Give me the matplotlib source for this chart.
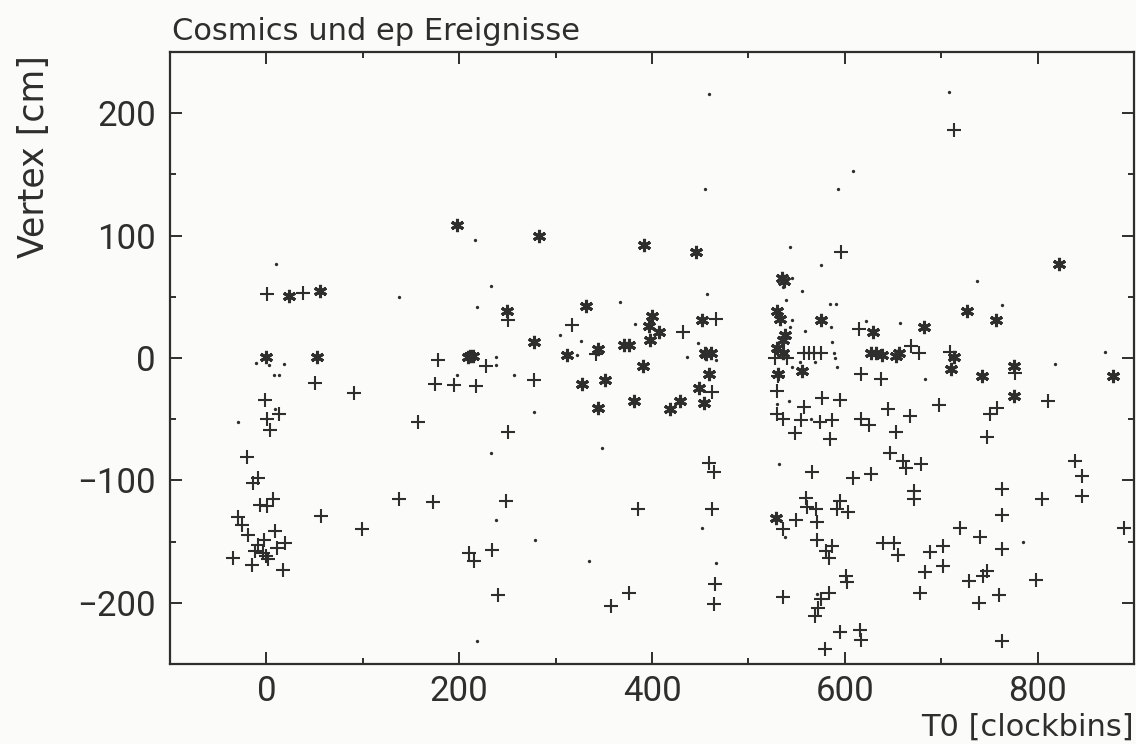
import matplotlib
matplotlib.use("Agg")
import matplotlib.pyplot as plt
from matplotlib.ticker import MultipleLocator

# T0 [clockbins], Vertex [cm]
plus_x = [1, 37.5, 50.6, 91, 178, 175, -1, 12.7, 0.3, 3.8, 157, -20, -9, -13.4, -6.5, 0.3, 6.5, 57, 99, 138,
          173, -29.6, -25.5, -18.6, 9.3, -2.8, -9, -11.4, -0.3, -3.8, 1.4, 11, 19, -35, -15, 17,
          251, 317, 432, 466, 227.7, 195, 217, 278, 342.4, 462, 250.5, 459.6,
          464, 248.8, 385.5, 462, 210.5, 215, 234, 465.4, 464, 240, 376, 357,
          595.7, 614.6, 527.5, 540, 557.4, 562.6, 567.8, 575, 531, 529.5, 557.4, 576.7, 595, 530, 536.4,
          554.4, 574.3, 587, 548, 584.7, 669, 676.6, 617, 637.7, 644.6, 668, 616.3, 625.6, 653.5, 646.7,
          660, 663, 679, 698, 708.7, 776.6, 811, 748, 750.7, 757.6, 838.6,
          566.4, 608.4, 627.4, 763.5, 804.8, 846, 846, 559.5, 561, 570, 595, 591.5, 603.6, 536.4, 549,
          571.6, 570.9, 580, 587, 583.5, 671.5, 671.5, 639.5, 651.5, 655, 688, 701.5, 683, 701.5, 719.7,
          740.4, 763.5, 763.5, 728.4, 743, 748, 798, 760, 738.7, 678.4, 600.8, 601.9, 536.4, 583.6, 575,
          572.5, 569, 595, 615.7, 617, 579.5, 763.5, 890, 713]
plus_y = [52, 53, -20.6, -29, -2, -21, -34, -46, -50, -58.5, -52, -81, -98, -102.4, -120, -121, -115.5, -129, -140, -115,
          -117.6, -129.5, -136.6, -145, -141, -149, -153, -158, -161.5, -159, -164, -155.5, -151, -163, -169, -173,
          31, 27, 21, 31.5, -6.5, -22, -22.5, -18, 3, -28, -60.5, -86,
          -93, -117, -123, -123.6, -159.6, -165.6, -157, -185, -201, -193.5, -192, -202.7,
          86.4, 23.6, -0.3, -0.3, 3.8, 3.8, 3.8, 3.8, -15, -26.6, -40.4, -32.8, -34, -45.8, -50,
          -50.4, -52, -51, -61, -66, 9.8, 3.8, -13, -17, -42, -47, -49.6, -55, -60.7, -77.5,
          -84, -90, -87, -38.8, 5, -12.5, -35.5, -64.8, -46, -41, -84,
          -93, -98.4, -94.6, -106.8, -115.5, -96, -112.7, -114, -122, -123.6, -116.8, -123, -126, -140, -132,
          -134, -148.8, -157.5, -154, -163, -108.7, -115.5, -151, -151, -160.7, -158.3, -154, -174.5, -169.7, -138.5,
          -146.6, -128, -156, -182, -178, -174, -181, -193.5, -200, -192, -178, -182.7, -195.4, -192, -197,
          -204, -211, -224, -222.5, -230.6, -238, -231, -138.5, 186]

star_x = [23, 55.5, 0, 52.4, 198, 283, 392, 446, 249.4, 332, 278, 400, 396.5, 407, 397.6, 452, 211.6, 214, 209,
          312, 344, 370.7, 376, 391, 326.9, 351.7, 381.4, 344, 429, 419, 453.7, 449, 459.6, 456, 461, 455,
          535, 537, 822.4, 726.6, 757, 530, 532.5, 575, 629.5, 681.8, 537.8, 536, 529.5, 536.4, 531, 556,
          656, 652.6, 638.8, 626.7, 632, 712.8, 710, 742, 775, 775, 878, 529]
star_y = [51, 54.5, 0.5, 1, 108.7, 100, 92, 87, 38.5, 42.5, 12.7, 34, 26, 21, 14.6, 31, 1.6, 1.6, 1.0,
          2.4, 7, 10.6, 10.6, -6.5, -21.4, -18, -35, -41, -35.5, -42, -37, -24.7, -13, 3.2, 3.8, 3.8,
          65.6, 63, 77, 38.5, 31.4, 38.5, 32, 31.4, 21, 25, 18.7, 15, 8.4, 3.8, -13, -11,
          4.3, 1.6, 2.4, 3.8, 3.8, 1, -9, -14.4, -6.2, -31, -15, -131]

dot_x = [10, 138, -10.7, 3, 18, 7.5, 13.4, 9, -29.6, 216.7, 233, 218.5, 366.6, 304.6, 326, 382, 457, 447.5,
         238, 238, 198, 257, 322.6, 436.5, 278, 233, 348.6, 238.4, 451.7, 278.7, 335, 466, 218.4,
         543, 575, 545.7, 536.4, 556, 539.5, 737, 584.7, 590.5, 763, 545.7, 543, 558.5, 585.5, 621.5, 657.7,
         587, 569, 588.4, 590, 592, 466.5, 545.7, 553.4, 530, 542, 564.7, 683, 818, 869.6, 532,
         538, 785, 571, 459, 708, 609, 455, 593]
dot_y = [77, 50, -4, -6, -5, -14, -14, -42, -52, 96.5, 59, 42, 46, 18.7, 14, 27.6, 52, 12.5,
         0.5, -5.7, -14, -14, 2.4, 0.5, -44.5, -78, -73.5, -132, -138.5, -149, -166, -167.5, -231.5,
         91, 76, 65.6, 58, 54.5, 47.7, 62.6, 43.9, 43.9, 43, 31, 25.5, 22, 25, 30, 28.7,
         12.8, -3, 3.8, -0.3, -7, -1.6, -7, -3, -37.7, -35, -49.6, -17.3, -5, 5, -87,
         -146.6, -150.7, -193, 216, 217, 153, 138, 138]

ink = "#2e2e2e"
paper = "#fbfbf9"
plt.rcParams["font.family"] = ["Roboto", "DejaVu Sans"]

fig = plt.figure(figsize=(11.36, 7.44), dpi=100, facecolor=paper)
ax = fig.add_axes([170 / 1136, 80 / 744, (1134 - 170) / 1136, (664 - 52) / 744])
ax.set_facecolor(paper)

ax.plot(plus_x, plus_y, ls="none", marker="+", ms=9.5, mew=1.5, color=ink)
ax.plot(star_x, star_y, ls="none", marker=(6, 2, 0), ms=9.5, mew=2.2, color=ink)
ax.plot(dot_x, dot_y, ls="none", marker="o", ms=2.4, mew=0, color=ink)

ax.set_xlim(-100, 900)
ax.set_ylim(-250, 250)
ax.xaxis.set_major_locator(MultipleLocator(200))
ax.xaxis.set_minor_locator(MultipleLocator(100))
ax.yaxis.set_major_locator(MultipleLocator(100))
ax.yaxis.set_minor_locator(MultipleLocator(50))
ax.tick_params(which="both", direction="in", top=True, right=True, color=ink, width=1.4)
ax.tick_params(which="major", length=8.5, labelsize=25, labelcolor=ink)
ax.tick_params(axis="x", which="major", pad=8)
ax.tick_params(axis="y", which="major", pad=10)
ax.tick_params(which="minor", length=4.5)
ax.tick_params(axis="x", labeltop=False)
ax.tick_params(axis="y", labelright=False)
for s in ax.spines.values():
    s.set_linewidth(1.6)
    s.set_color(ink)

label_font = ["DejaVu Sans"]
fig.text(172 / 1136, 1 - 40 / 744, "Cosmics und ep Ereignisse", fontsize=22, color=ink,
         family=label_font, ha="left", va="baseline")
fig.text(34 / 1136, 1 - 55 / 744, "Vertex [cm]", fontsize=25, color=ink, rotation=90,
         family=label_font, ha="center", va="top")
fig.text(1134 / 1136, 1 - 742 / 744, "T0 [clockbins]", fontsize=22, color=ink,
         family=label_font, ha="right", va="bottom")

fig.savefig("out.png", dpi=100, facecolor=paper)
